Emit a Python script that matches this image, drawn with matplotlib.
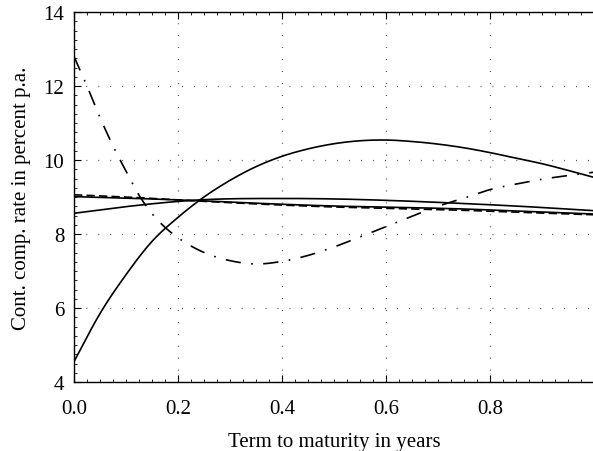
import numpy as np
import matplotlib
matplotlib.use("Agg")
import matplotlib.pyplot as plt
from matplotlib.ticker import MultipleLocator, FixedLocator

plt.rcParams['font.family'] = ['Liberation Serif', 'DejaVu Serif']
plt.rcParams['lines.scale_dashes'] = False

# Data
x_rise = [0.0, 0.05, 0.1, 0.15, 0.2, 0.25, 0.3, 0.35, 0.4, 0.45, 0.5, 0.55, 0.6,
          0.65, 0.7, 0.75, 0.8, 0.85, 0.9, 0.95, 1.0]
y_rise = [4.55, 5.85, 6.9, 7.8, 8.45, 9.0, 9.45, 9.82, 10.1, 10.3, 10.44, 10.52, 10.54,
          10.5, 10.43, 10.33, 10.2, 10.05, 9.9, 9.72, 9.53]

x_hump = [0.0, 0.1, 0.24, 0.4, 0.49, 0.6, 0.74, 0.87, 1.0]
y_hump = [8.56, 8.74, 8.92, 8.96, 8.95, 8.91, 8.83, 8.74, 8.63]

x_down = [0.0, 0.1, 0.24, 0.37, 0.49, 0.62, 0.74, 0.87, 1.0]
y_down = [9.01, 8.97, 8.9, 8.82, 8.76, 8.72, 8.68, 8.61, 8.54]

x_dash = [0.0, 0.1, 0.24, 0.37, 0.5, 0.62, 0.75, 0.87, 1.0]
y_dash = [9.06, 9.0, 8.89, 8.8, 8.73, 8.69, 8.64, 8.58, 8.52]

x_dd = [0.0, 0.025, 0.05, 0.075, 0.1, 0.125, 0.15, 0.175, 0.2, 0.25, 0.3, 0.35, 0.4,
        0.45, 0.5, 0.55, 0.6, 0.65, 0.7, 0.75, 0.8, 0.85, 0.9, 0.95, 1.0]
y_dd = [12.8, 12.0, 11.15, 10.38, 9.7, 9.05, 8.55, 8.18, 7.9, 7.5, 7.28, 7.19, 7.26,
        7.42, 7.65, 7.92, 8.2, 8.48, 8.75, 8.97, 9.2, 9.35, 9.48, 9.58, 9.67]

x_major = [0.0, 0.2, 0.4, 0.6, 0.8]
x_major_labels = ['0.0', '0.2', '0.4', '0.6', '0.8']
y_major = [4, 6, 8, 10, 12, 14]


def smooth(xs, ys, n=300):
    xs = np.asarray(xs, float)
    ys = np.asarray(ys, float)
    xx = np.linspace(xs[0], xs[-1], n)
    m = np.gradient(ys, xs)
    idx = np.clip(np.searchsorted(xs, xx) - 1, 0, len(xs) - 2)
    x0, x1 = xs[idx], xs[idx + 1]
    h = x1 - x0
    t = (xx - x0) / h
    h00 = 2 * t**3 - 3 * t**2 + 1
    h10 = t**3 - 2 * t**2 + t
    h01 = -2 * t**3 + 3 * t**2
    h11 = t**3 - t**2
    yy = h00 * ys[idx] + h10 * h * m[idx] + h01 * ys[idx + 1] + h11 * h * m[idx + 1]
    return xx, yy


fig = plt.figure(figsize=(5.93, 4.52), dpi=100)
ax = fig.add_axes([74 / 593, 1 - 383 / 452, (594 - 74) / 593, (383 - 13) / 452])

lw = 1.2
ax.plot(*smooth(x_rise, y_rise), color='black', lw=lw)
ax.plot(*smooth(x_hump, y_hump), color='black', lw=lw)
ax.plot(*smooth(x_down, y_down), color='black', lw=lw)
ax.plot(*smooth(x_dash, y_dash), color='black', lw=lw, linestyle=(0, (6, 3)))
ax.plot(*smooth(x_dd, y_dd), color='black', lw=lw, linestyle=(0, (11, 7.5, 1.2, 7.5)))

ax.set_xlim(0, 1.0)
ax.set_ylim(4, 14)

ax.xaxis.set_major_locator(FixedLocator(x_major))
ax.set_xticklabels(x_major_labels)
ax.yaxis.set_major_locator(FixedLocator(y_major))
ax.xaxis.set_minor_locator(MultipleLocator(0.025))
ax.yaxis.set_minor_locator(MultipleLocator(0.25))

ax.tick_params(which='major', direction='in', length=5, width=0.8, top=True, right=False,
               labelsize=15, pad=7, colors='black')
ax.tick_params(axis='x', which='major', pad=12)
ax.tick_params(which='minor', direction='in', length=2, width=0.6, top=True, right=False)

ax.grid(True, which='major', color='#333333', linestyle=(0, (0.6, 8)), linewidth=0.9)

for s in ax.spines.values():
    s.set_linewidth(1.0)

ax.set_xlabel('Term to maturity in years', fontsize=15, labelpad=10)
ax.set_ylabel('Cont. comp. rate in percent p.a.', fontsize=15, labelpad=9)

fig.savefig('out.png', dpi=100)
